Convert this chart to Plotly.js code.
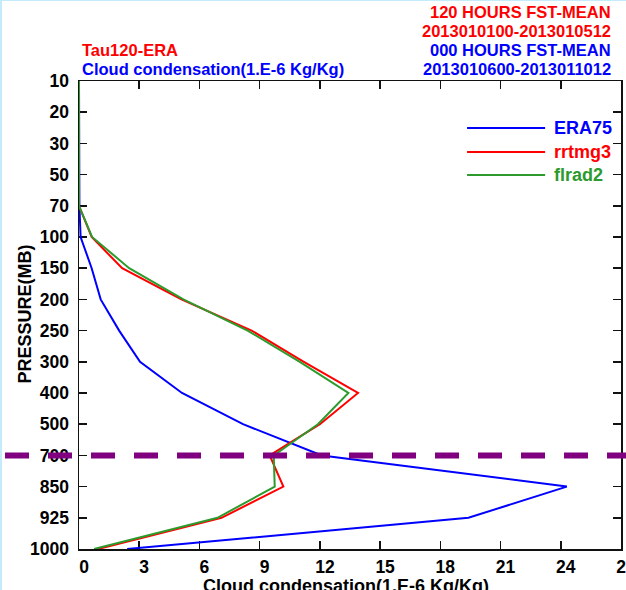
<!DOCTYPE html>
<html>
<head>
<meta charset="utf-8">
<script src="https://cdn.plot.ly/plotly-3.0.1.min.js"></script>
<style>
  html, body { margin: 0; padding: 0; background: #ffffff; }
  #wrap { position: relative; width: 626px; height: 590px; overflow: hidden; }
  #chart { width: 626px; height: 590px; }
  #edge { position: absolute; left: 0; top: 0; width: 626px; height: 590px;
          box-sizing: border-box; border-left: 2px solid #c4ebfa; border-top: 1px solid #c4ebfa;
          pointer-events: none; }
</style>
</head>
<body>
<div id="wrap"><div id="chart"></div><div id="edge"></div></div>
<script>
// Pressure levels (MB), top of the atmosphere first
const levels = ['10','20','30','50','70','100','150','200','250','300','400','500','700','850','925','1000'];

// Cloud condensation profiles (1.E-6 Kg/Kg) at each level
const era75  = [0, 0, 0, 0, 0.02, 0.08, 0.63, 1.08, 2.0, 3.04, 5.13, 8.17, 12.1, 24.3, 19.4, 2.4];
const rrtmg3 = [0, 0, 0, 0, 0, 0.63, 2.15, 5.1, 8.6, 11.2, 13.9, 12.0, 9.5, 10.18, 7.1, 0.95];
const flrad2 = [0, 0, 0, 0, 0, 0.65, 2.5, 5.2, 8.4, 11.0, 13.42, 11.9, 9.7, 9.75, 6.9, 0.75];

const seriesNames  = ['ERA75', 'rrtmg3', 'flrad2'];
const seriesColors = ['#0000ff', '#ff0000', '#2c9a2c'];
const seriesValues = [era75, rrtmg3, flrad2];

const xTicks = [0, 3, 6, 9, 12, 15, 18, 21, 24, 27];
const markLevel = '700';

const FONT = 'Liberation Sans, Arial, Helvetica, sans-serif';

const traces = seriesValues.map((vals, i) => ({
  type: 'scatter',
  mode: 'lines',
  x: vals,
  y: levels,
  name: seriesNames[i],
  line: { color: seriesColors[i], width: 2 },
  showlegend: false,
  hoverinfo: 'skip'
}));

// hand-built legend: long line sample plus coloured label
const legendX0 = 0.716, legendX1 = 0.860, legendTextX = 0.872;
const legendY = [0.8995, 0.8482, 0.799];

const shapes = [];
const annotations = [];

seriesNames.forEach((nm, i) => {
  shapes.push({
    type: 'line', xref: 'paper', yref: 'paper',
    x0: legendX0, x1: legendX1, y0: legendY[i], y1: legendY[i],
    line: { color: seriesColors[i], width: 2 }
  });
  annotations.push({
    xref: 'paper', yref: 'paper', x: legendTextX, y: legendY[i],
    xanchor: 'left', yanchor: 'middle', showarrow: false,
    text: nm, font: { family: FONT, size: 18, weight: 'bold', color: seriesColors[i] }
  });
});

// dashed reference line at 700 MB, running across the whole figure
const markIndex = levels.indexOf(markLevel);
shapes.push({
  type: 'line', xref: 'paper', yref: 'y', layer: 'above',
  x0: -0.1365, x1: 1.02, y0: markIndex, y1: markIndex,
  line: { color: '#800080', width: 6, dash: '24px,19px' }
});

// header texts
const header = [
  { text: 'Tau120-ERA', x: 0.002, y: 1.0663, anchor: 'left', color: '#ff0000' },
  { text: 'Cloud condensation(1.E-6 Kg/Kg)', x: 0.002, y: 1.0257, anchor: 'left', color: '#0000ff' },
  { text: '120 HOURS FST-MEAN', x: 0.985, y: 1.1475, anchor: 'right', color: '#ff0000' },
  { text: '2013010100-2013010512', x: 0.985, y: 1.1069, anchor: 'right', color: '#ff0000' },
  { text: '000 HOURS FST-MEAN', x: 0.985, y: 1.0663, anchor: 'right', color: '#0000ff' },
  { text: '2013010600-2013011012', x: 0.985, y: 1.0257, anchor: 'right', color: '#0000ff' }
];
header.forEach(h => annotations.push({
  xref: 'paper', yref: 'paper', x: h.x, y: h.y, xanchor: h.anchor, yanchor: 'middle',
  showarrow: false, text: h.text,
  font: { family: FONT, size: 16.5, weight: 'bold', color: h.color }
}));

// axis titles
annotations.push({
  xref: 'paper', yref: 'paper', x: -0.0996, y: 0.501, textangle: -90,
  xanchor: 'center', yanchor: 'middle', showarrow: false, text: 'PRESSURE(MB)',
  font: { family: FONT, size: 18, weight: 'bold', color: '#000000' }
});
annotations.push({
  xref: 'paper', yref: 'paper', x: 0.4926, y: -0.0798,
  xanchor: 'center', yanchor: 'middle', showarrow: false, text: 'Cloud condensation(1.E-6 Kg/Kg)',
  font: { family: FONT, size: 18, weight: 'bold', color: '#000000' }
});

const layout = {
  width: 626, height: 590,
  margin: { l: 79, r: 5, t: 81, b: 41, pad: 0 },
  paper_bgcolor: '#ffffff', plot_bgcolor: '#ffffff',
  showlegend: false,
  xaxis: {
    range: [0, 27], tickvals: xTicks, ticktext: xTicks.map(String),
    ticks: 'inside', ticklen: 8, tickwidth: 1.5, tickcolor: '#111111',
    showline: true, linecolor: '#111111', linewidth: 1.5, mirror: 'ticks',
    showgrid: false, zeroline: false, ticklabelstandoff: 1, ticklabelshift: 5,
    ticklabeloverflow: 'allow', layer: 'below traces',
    tickfont: { family: FONT, size: 17.5, weight: 'bold', color: '#000000' }
  },
  yaxis: {
    type: 'category', categoryorder: 'array', categoryarray: levels,
    range: [15, 0],
    ticks: 'inside', ticklen: 8, tickwidth: 1.5, tickcolor: '#111111',
    showline: true, linecolor: '#111111', linewidth: 1.5, mirror: 'ticks',
    showgrid: false, zeroline: false, ticklabelstandoff: 5, layer: 'below traces',
    tickfont: { family: FONT, size: 17.5, weight: 'bold', color: '#000000' }
  },
  shapes: shapes,
  annotations: annotations
};

Plotly.newPlot('chart', traces, layout, { displayModeBar: false, staticPlot: true });
</script>
</body>
</html>
